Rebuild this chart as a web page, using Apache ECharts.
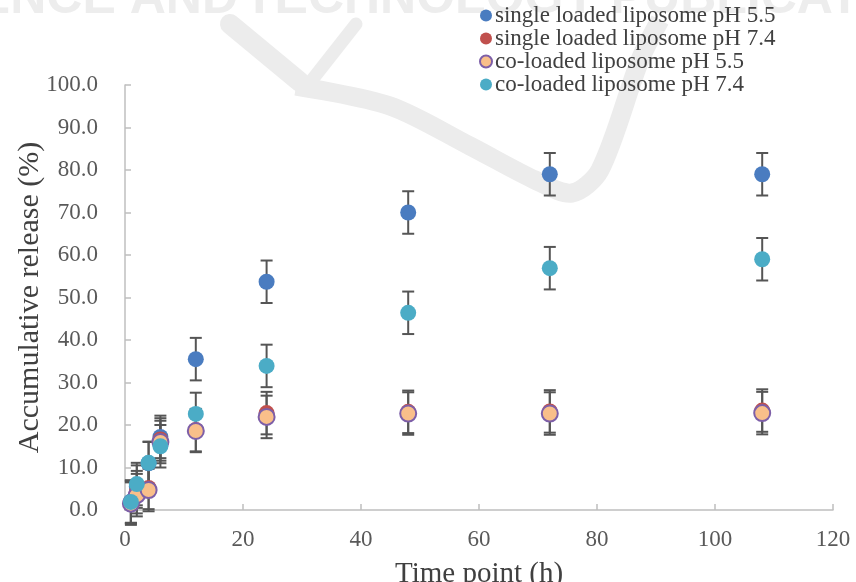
<!DOCTYPE html>
<html><head><meta charset="utf-8">
<script src="https://cdn.jsdelivr.net/npm/echarts@6/dist/echarts.min.js"></script>
<style>html,body{margin:0;padding:0;background:#fff}#c{width:856px;height:582px}</style>
</head><body><div id="c"></div>
<script>
const timePoints = [1, 2, 4, 6, 12, 24, 48, 72, 108];
const seriesNames = ['single loaded liposome pH 5.5','single loaded liposome pH 7.4','co-loaded liposome pH 5.5','co-loaded liposome pH 7.4'];
const singlePH55 = [2.0, 5.5, 11.0, 17.2, 35.5, 53.7, 70.0, 79.0, 79.0];
const singlePH74 = [1.8, 4.2, 5.2, 16.6, 18.8, 22.8, 23.1, 23.2, 23.4];
const coPH55     = [1.5, 3.5, 4.7, 16.0, 18.6, 21.9, 22.7, 22.7, 22.8];
const coPH74     = [1.9, 6.1, 11.1, 15.0, 22.6, 33.9, 46.4, 56.9, 59.0];
const errSingle55 = [5, 5, 5, 5, 5, 5, 5, 5, 5];
const errSingle74 = [5, 5, 5, 5, 5, 5, 5, 5, 5];
const errCo55     = [5, 5, 5, 5, 5, 5, 5, 5, 5];
const errCo74     = [5, 5, 5, 5, 5, 5, 5, 5, 5];
const yTicks = [0, 10, 20, 30, 40, 50, 60, 70, 80, 90, 100];

const values = [singlePH55, singlePH74, coPH55, coPH74];
const errs = [errSingle55, errSingle74, errCo55, errCo74];
const fills = ['#4a7cc0', '#c0504d', '#f9bf8a', '#4bacc6'];
const borders = ['#4a7cc0', '#c0504d', '#7d5fa8', '#4bacc6'];
const serif = '"Liberation Serif", "DejaVu Serif", serif';

const chart = echarts.init(document.getElementById('c'));
const series = [];
values.forEach((vals, i) => {
  series.push({
    type: 'custom',
    name: seriesNames[i] + ' err',
    z: 1,
    silent: true,
    data: vals.map((v, k) => [timePoints[k], v - errs[i][k], v + errs[i][k]]),
    renderItem: function (params, api) {
      const lo = api.coord([api.value(0), api.value(1)]);
      const hi = api.coord([api.value(0), api.value(2)]);
      const w = 6;
      const st = {stroke: '#555555', lineWidth: 2};
      return {type: 'group', children: [
        {type: 'line', shape: {x1: lo[0], y1: lo[1], x2: hi[0], y2: hi[1]}, style: st},
        {type: 'line', shape: {x1: hi[0] - w, y1: hi[1], x2: hi[0] + w, y2: hi[1]}, style: st},
        {type: 'line', shape: {x1: lo[0] - w, y1: lo[1], x2: lo[0] + w, y2: lo[1]}, style: st}
      ]};
    }
  });
});
values.forEach((vals, i) => {
  series.push({
    type: 'scatter',
    name: seriesNames[i],
    z: 3,
    symbol: 'circle',
    symbolSize: 16,
    data: vals.map((v, k) => [timePoints[k], v]),
    itemStyle: {color: fills[i], borderColor: borders[i], borderWidth: i === 2 ? 2 : 0, opacity: 1}
  });
});

chart.setOption({
  animation: false,
  backgroundColor: '#fff',
  graphic: [
    {type: 'text', z: -10, silent: true, x: 238, y: -26,
     style: {text: 'SCIENCE AND', fill: '#ededed', font: 'bold 50px "Liberation Sans", sans-serif', align: 'right', verticalAlign: 'top'}},
    {type: 'text', z: -10, silent: true, x: 244, y: -26,
     style: {text: 'TECHNOLOGY PUBLICATIONS', fill: '#ededed', font: 'bold 50px "Liberation Sans", sans-serif', align: 'left', verticalAlign: 'top'}},
    {type: 'polyline', z: -10, silent: true,
     shape: {points: [[230, 24], [300, 82]]},
     style: {stroke: '#ececec', lineWidth: 20, fill: null, lineCap: 'round'}},
    {type: 'polyline', z: -10, silent: true,
     shape: {points: [[356, 24], [312, 80]]},
     style: {stroke: '#ececec', lineWidth: 13, fill: null, lineCap: 'round'}},
    {type: 'polyline', z: -10, silent: true,
     shape: {points: [[296, 86], [390, 106], [470, 146], [535, 180], [572, 193], [600, 170], [640, 60], [660, 20]], smooth: 0.3},
     style: {stroke: '#ececec', lineWidth: 19, fill: null, lineJoin: 'round'}}
  ],
  legend: {
    orient: 'vertical', left: 474, top: -1, itemGap: 0, itemWidth: 12, itemHeight: 12,
    icon: 'circle',
    data: seriesNames,
    textStyle: {fontFamily: serif, fontSize: 23, color: '#404040', lineHeight: 22, padding: [0, 0, 0, -2]}
  },
  grid: {left: 125, right: 23, top: 85, bottom: 72, containLabel: false, outerBoundsMode: 'none'},
  xAxis: {
    type: 'value', min: 0, max: 120, interval: 20,
    name: 'Time point (h)', nameLocation: 'middle', nameGap: 50,
    nameTextStyle: {fontFamily: serif, fontSize: 29, color: '#404040'},
    axisLine: {lineStyle: {color: '#bfbfbf', width: 1.5}},
    axisTick: {inside: true, length: 6, lineStyle: {color: '#bfbfbf', width: 1.5}},
    axisLabel: {fontFamily: serif, fontSize: 23, color: '#595959', margin: 18},
    splitLine: {show: false}
  },
  yAxis: {
    type: 'value', min: 0, max: 100, interval: 10,
    name: 'Accumulative release (%)', nameLocation: 'middle', nameGap: 80, nameMoveOverlap: false,
    nameTextStyle: {fontFamily: serif, fontSize: 30, color: '#404040'},
    axisLine: {show: true, lineStyle: {color: '#bfbfbf', width: 1.5}},
    axisTick: {show: true, inside: true, length: 6, lineStyle: {color: '#bfbfbf', width: 1.5}},
    axisLabel: {fontFamily: serif, fontSize: 23, color: '#595959', margin: 27,
      formatter: v => yTicks.indexOf(v) >= 0 ? v.toFixed(1) : ''},
    splitLine: {show: false}
  },
  series: series
});
</script></body></html>
